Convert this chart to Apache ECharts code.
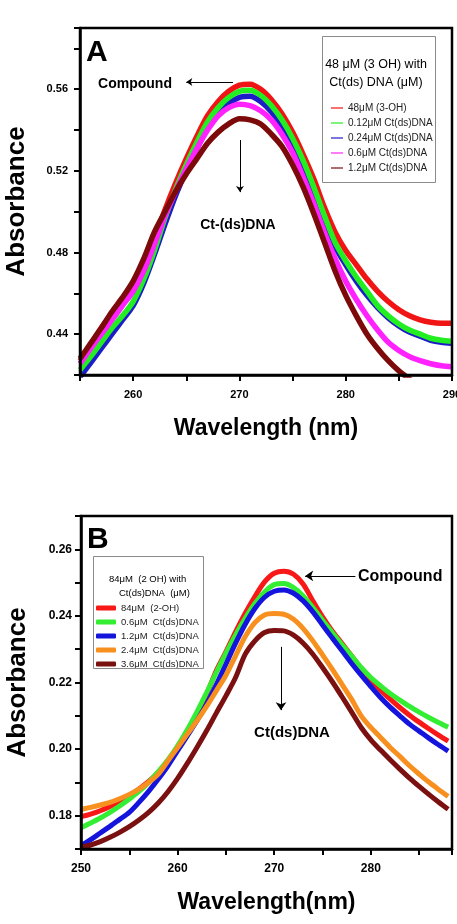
<!DOCTYPE html>
<html>
<head>
<meta charset="utf-8">
<script src="https://cdn.jsdelivr.net/npm/echarts@6/dist/echarts.min.js"></script>
<style>
  html, body { margin: 0; padding: 0; background: #fff; }
  #chart { width: 457px; height: 924px; }
</style>
</head>
<body>
<div id="chart"></div>
<script>
// ---------- Panel A data (48 uM 3-OH + Ct(ds)DNA) ----------
const wavelengthA = [255, 256, 257, 258, 259, 260, 261, 262, 263, 264, 265, 266, 267, 268, 269, 270, 271, 272,
  273, 274, 275, 276, 277, 278, 279, 280, 281, 282, 283, 284, 285, 286, 287, 288, 289, 290];
const namesA = ['48\u03bcM (3-OH)', '0.12\u03bcM Ct(ds)DNA', '0.24\u03bcM Ct(ds)DNA', '0.6\u03bcM Ct(ds)DNA', '1.2\u03bcM Ct(ds)DNA'];
const colorsA = ['#f01414', '#22ee22', '#1c1cc8', '#ff22ff', '#7d0a0a'];
const absA_compound = [0.427, 0.435, 0.443, 0.450, 0.457, 0.464, 0.474, 0.487, 0.501, 0.514, 0.526, 0.537, 0.547, 0.554,
  0.559, 0.562, 0.5625, 0.560, 0.555, 0.548, 0.539, 0.528, 0.516, 0.502, 0.490, 0.481, 0.474, 0.467, 0.461, 0.456,
  0.452, 0.449, 0.447, 0.4458, 0.4453, 0.4453];
const absA_012 = [0.4225, 0.429, 0.436, 0.443, 0.449, 0.456, 0.467, 0.481, 0.497, 0.511, 0.523, 0.534, 0.544, 0.551,
  0.556, 0.559, 0.5595, 0.557, 0.552, 0.545, 0.536, 0.525, 0.512, 0.498, 0.485, 0.476, 0.468, 0.461, 0.454, 0.449,
  0.445, 0.442, 0.440, 0.438, 0.437, 0.4365];
const absA_024 = [0.419, 0.426, 0.433, 0.440, 0.447, 0.454, 0.465, 0.479, 0.494, 0.508, 0.520, 0.531, 0.541, 0.548,
  0.553, 0.556, 0.5566, 0.554, 0.549, 0.542, 0.533, 0.522, 0.509, 0.495, 0.483, 0.474, 0.466, 0.459, 0.453, 0.448,
  0.444, 0.441, 0.439, 0.437, 0.436, 0.4355];
const absA_06 = [0.4255, 0.433, 0.440, 0.447, 0.454, 0.461, 0.471, 0.484, 0.498, 0.510, 0.521, 0.531, 0.540, 0.547,
  0.551, 0.5527, 0.552, 0.5495, 0.545, 0.538, 0.529, 0.517, 0.504, 0.490, 0.477, 0.466, 0.457, 0.449, 0.442, 0.436,
  0.432, 0.429, 0.427, 0.4255, 0.4245, 0.424];
const absA_12 = [0.428, 0.4355, 0.443, 0.451, 0.458, 0.466, 0.477, 0.490, 0.500, 0.510, 0.5185, 0.526, 0.5335, 0.539,
  0.543, 0.5455, 0.545, 0.543, 0.538, 0.532, 0.523, 0.512, 0.499, 0.485, 0.471, 0.459, 0.449, 0.440, 0.433, 0.427,
  0.422, 0.418, 0.414, 0.410, 0.407, 0.404];

// ---------- Panel B data (84 uM 2-OH + Ct(ds)DNA) ----------
const wavelengthB = [250, 251, 252, 253, 254, 255, 256, 257, 258, 259, 260, 261, 262, 263, 264, 265, 266, 267, 268,
  269, 270, 271, 272, 273, 274, 275, 276, 277, 278, 279, 280, 281, 282, 283, 284, 285, 286, 287, 288];
const namesB = ['84\u03bcM  (2-OH)', '0.6\u03bcM  Ct(ds)DNA', '1.2\u03bcM  Ct(ds)DNA', '2.4\u03bcM  Ct(ds)DNA', '3.6\u03bcM  Ct(ds)DNA'];
const colorsB = ['#f81818', '#33ee33', '#1414dc', '#f7901e', '#7b1010'];
const absB_compound = [0.1797, 0.1805, 0.1815, 0.1828, 0.1843, 0.1860, 0.1880, 0.1903, 0.1930, 0.1962, 0.2002, 0.2050,
  0.2105, 0.2165, 0.2235, 0.2292, 0.2352, 0.2408, 0.2458, 0.2502, 0.2528, 0.2534, 0.2525, 0.2495, 0.2445, 0.2397,
  0.2355, 0.2318, 0.2280, 0.2242, 0.2207, 0.2177, 0.2150, 0.2125, 0.2102, 0.2081, 0.2061, 0.2042, 0.2024];
const absB_06 = [0.1764, 0.1778, 0.1793, 0.1810, 0.1829, 0.1850, 0.1873, 0.1900, 0.1932, 0.1968, 0.2010, 0.2058,
  0.2112, 0.2170, 0.2230, 0.2288, 0.2343, 0.2393, 0.2437, 0.2472, 0.2494, 0.2497, 0.2485, 0.2460, 0.2425, 0.2387,
  0.2350, 0.2314, 0.2280, 0.2245, 0.2215, 0.2190, 0.2167, 0.2147, 0.2128, 0.2111, 0.2095, 0.2080, 0.2066];
const absB_12 = [0.1710, 0.1728, 0.1748, 0.1768, 0.1789, 0.1810, 0.1840, 0.1873, 0.1910, 0.1950, 0.1995, 0.2040,
  0.2085, 0.2135, 0.2193, 0.2255, 0.2318, 0.2375, 0.2422, 0.2456, 0.2474, 0.2478, 0.2468, 0.2445, 0.2412, 0.2373,
  0.2334, 0.2296, 0.2258, 0.2222, 0.2188, 0.2155, 0.2126, 0.2100, 0.2075, 0.2054, 0.2033, 0.2013, 0.1994];
const absB_24 = [0.1819, 0.1825, 0.1832, 0.1840, 0.1851, 0.1864, 0.1880, 0.1900, 0.1925, 0.1965, 0.2005, 0.2045,
  0.2085, 0.2128, 0.2175, 0.2222, 0.2280, 0.2338, 0.2380, 0.2403, 0.2407, 0.2405, 0.2390, 0.2362, 0.2325, 0.2283,
  0.2240, 0.2195, 0.2150, 0.2100, 0.2065, 0.2035, 0.2005, 0.1978, 0.1950, 0.1925, 0.1901, 0.1879, 0.1858];
const absB_36 = [0.1705, 0.1712, 0.1722, 0.1735, 0.1750, 0.1767, 0.1787, 0.1810, 0.1838, 0.1872, 0.1912, 0.1957,
  0.2005, 0.2055, 0.2108, 0.2160, 0.2215, 0.2285, 0.2325, 0.2350, 0.2356, 0.2355, 0.2342, 0.2318, 0.2285, 0.2245,
  0.2203, 0.2158, 0.2112, 0.2065, 0.2028, 0.1997, 0.1968, 0.1940, 0.1913, 0.1888, 0.1864, 0.1841, 0.1819];

// annotation anchors, in data units (wavelength, absorbance)
const arrowsA = [[[269.4, 0.5635], [265.0, 0.5635]], [[270.05, 0.5351], [270.05, 0.5096]]];
const arrowsB = [[[278.4, 0.2520], [273.2, 0.2520]], [[270.7, 0.2307], [270.7, 0.2117]]];

const FONT = '"Liberation Sans", Arial, sans-serif';

function pairs(xs, ys) {
  return xs.map((x, i) => [x, ys[i]]);
}

function lineSeries(name, xs, ys, color, idx, width) {
  return {
    name: name,
    type: 'line',
    xAxisIndex: idx,
    yAxisIndex: idx,
    data: pairs(xs, ys),
    symbol: 'none',
    smooth: 0.3,
    color: color,
    lineStyle: { width: width, color: color },
    animation: false
  };
}

function arrowMark(list, size) {
  return {
    silent: true,
    symbol: ['none', 'arrow'],
    symbolSize: size,
    label: { show: false },
    lineStyle: { color: '#000', width: 1, type: 'solid' },
    emphasis: { disabled: true },
    animation: false,
    data: list.map(a => [{ coord: a[0] }, { coord: a[1] }])
  };
}

const axisCommon = {
  axisLine: { show: true, onZero: false, lineStyle: { color: '#000', width: 2.5 } },
  axisTick: { show: true, inside: false, length: 6, lineStyle: { color: '#000', width: 2 } },
  splitLine: { show: false },
  z: 5
};

const chartDom = document.getElementById('chart');
const myChart = echarts.init(chartDom, null, { renderer: 'canvas' });

// A: draw blue first so green covers it on the tail; maroon on top
const sA = [
  lineSeries(namesA[2], wavelengthA, absA_024, colorsA[2], 0, 5.5),
  lineSeries(namesA[0], wavelengthA, absA_compound, colorsA[0], 0, 5.5),
  lineSeries(namesA[1], wavelengthA, absA_012, colorsA[1], 0, 5.5),
  lineSeries(namesA[3], wavelengthA, absA_06, colorsA[3], 0, 5.5),
  lineSeries(namesA[4], wavelengthA, absA_12, colorsA[4], 0, 5.5)
];
sA[4].markLine = arrowMark(arrowsA, 6);

const sB = [
  lineSeries(namesB[0], wavelengthB, absB_compound, colorsB[0], 1, 5),
  lineSeries(namesB[1], wavelengthB, absB_06, colorsB[1], 1, 5),
  lineSeries(namesB[2], wavelengthB, absB_12, colorsB[2], 1, 5),
  lineSeries(namesB[3], wavelengthB, absB_24, colorsB[3], 1, 5),
  lineSeries(namesB[4], wavelengthB, absB_36, colorsB[4], 1, 5)
];
sB[4].markLine = arrowMark(arrowsB, 8);

const option = {
  animation: false,
  backgroundColor: '#fff',
  grid: [
    { left: 80, top: 28, width: 372, height: 347, show: true, borderColor: '#000', borderWidth: 2.5, z: 5,
      containLabel: false, outerBoundsMode: 'none' },
    { left: 81, top: 516, width: 371, height: 333, show: true, borderColor: '#000', borderWidth: 2.5, z: 5,
      containLabel: false, outerBoundsMode: 'none' }
  ],
  xAxis: [
    Object.assign({}, axisCommon, {
      type: 'value', gridIndex: 0, min: 255, max: 290, interval: 5,
      name: 'Wavelength (nm)', nameLocation: 'middle', nameGap: 42,
      nameTextStyle: { fontFamily: FONT, fontWeight: 'bold', fontSize: 23, color: '#000' },
      axisLabel: {
        margin: 14, color: '#000', fontFamily: FONT, fontWeight: 'bold', fontSize: 11,
        formatter: v => (Math.round(v) % 10 === 0 ? String(Math.round(v)) : '')
      }
    }),
    Object.assign({}, axisCommon, {
      type: 'value', gridIndex: 1, min: 250, max: 288.4, interval: 5,
      name: 'Wavelength(nm)', nameLocation: 'middle', nameGap: 42,
      nameTextStyle: { fontFamily: FONT, fontWeight: 'bold', fontSize: 23, color: '#000' },
      axisLabel: {
        margin: 14, color: '#000', fontFamily: FONT, fontWeight: 'bold', fontSize: 12,
        formatter: v => (Math.abs(v - Math.round(v)) < 1e-6 && Math.round(v) % 10 === 0 ? String(Math.round(v)) : '')
      }
    })
  ],
  yAxis: [
    Object.assign({}, axisCommon, {
      type: 'value', gridIndex: 0, min: 0.42, max: 0.59, interval: 0.02,
      name: 'Absorbance', nameLocation: 'middle', nameGap: 50,
      nameTextStyle: { fontFamily: FONT, fontWeight: 'bold', fontSize: 26, color: '#000' },
      axisLabel: {
        margin: 12, color: '#000', fontFamily: FONT, fontWeight: 'bold', fontSize: 11,
        formatter: v => (Math.round(v * 100) % 4 === 0 ? v.toFixed(2) : '')
      }
    }),
    Object.assign({}, axisCommon, {
      type: 'value', gridIndex: 1, min: 0.17, max: 0.27, interval: 0.01,
      name: 'Absorbance', nameLocation: 'middle', nameGap: 50,
      nameTextStyle: { fontFamily: FONT, fontWeight: 'bold', fontSize: 26, color: '#000' },
      axisLabel: {
        margin: 9, color: '#000', fontFamily: FONT, fontWeight: 'bold', fontSize: 12,
        formatter: v => (Math.round(v * 100) % 2 === 0 ? v.toFixed(2) : '')
      }
    })
  ],
  legend: [
    {
      data: namesA, orient: 'vertical', left: 331, top: 103, itemGap: 5, padding: 0,
      icon: 'rect', itemWidth: 12, itemHeight: 1.2, selectedMode: false,
      textStyle: { fontFamily: FONT, fontSize: 10, color: '#222' }
    },
    {
      data: namesB, orient: 'vertical', left: 96, top: 603, itemGap: 4, padding: 0,
      icon: 'roundRect', itemWidth: 20, itemHeight: 5, selectedMode: false,
      textStyle: { fontFamily: FONT, fontSize: 9.5, color: '#222' }
    }
  ],
  series: sA.concat(sB)
};

myChart.setOption(option);

// texts placed from data coordinates
function px(gridIndex, x, y) {
  return myChart.convertToPixel({ gridIndex: gridIndex }, [x, y]);
}
function txt(p, text, size, align, weight) {
  return {
    type: 'text', x: p[0], y: p[1], z: 10,
    style: {
      text: text, font: (weight || 'bold') + ' ' + size + 'px ' + FONT, fill: '#000',
      align: align, textAlign: align, verticalAlign: 'middle', textVerticalAlign: 'middle'
    }
  };
}

const g = [];
// panel letters
g.push(txt([86, 53], 'A', 30, 'left'));
g.push(txt([87, 540], 'B', 30, 'left'));
// legend boxes + titles
g.push({ type: 'rect', shape: { x: 322.5, y: 36.5, width: 113, height: 146 }, z: 10,
  style: { fill: 'none', stroke: '#8a8a8a', lineWidth: 1 } });
g.push(txt([376, 65], '48 \u03bcM (3 OH) with', 12.5, 'center', 'normal'));
g.push(txt([376, 83], 'Ct(ds) DNA (\u03bcM)', 12.5, 'center', 'normal'));
g.push({ type: 'rect', shape: { x: 93.5, y: 556.5, width: 110, height: 112 }, z: 10,
  style: { fill: 'none', stroke: '#8a8a8a', lineWidth: 1 } });
g.push(txt([109, 579], '84\u03bcM  (2 OH) with', 9.5, 'left', 'normal'));
g.push(txt([119, 593], 'Ct(ds)DNA  (\u03bcM)', 9.5, 'left', 'normal'));
// annotation labels
g.push(txt(px(0, 263.65, 0.5626), 'Compound', 14, 'right'));
g.push(txt(px(0, 269.86, 0.4935), 'Ct-(ds)DNA', 14, 'center'));
g.push(txt(px(1, 278.67, 0.2517), 'Compound', 16, 'left'));
g.push(txt(px(1, 271.84, 0.2048), 'Ct(ds)DNA', 15, 'center'));

myChart.setOption({ graphic: g });

window.addEventListener('resize', function () {
  myChart.resize();
});
</script>
</body>
</html>
